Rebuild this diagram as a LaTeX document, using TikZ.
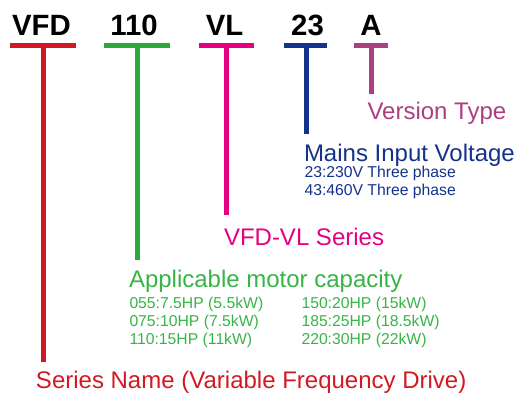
\documentclass[tikz,border=0pt]{standalone}
\usepackage{fontspec}
\setmainfont{Liberation Sans}
\definecolor{cRed}{RGB}{210,25,35}
\definecolor{cGreen}{RGB}{45,168,60}
\definecolor{cGreenTxt}{RGB}{55,180,70}
\definecolor{cPink}{RGB}{228,0,128}
\definecolor{cBlue}{RGB}{20,50,140}
\definecolor{cPurple}{RGB}{172,62,132}
\tikzset{every picture/.style={line width=0.75pt}}
\tikzset{
  head/.style={anchor=base,inner sep=0pt,font=\fontsize{22}{26}\selectfont\bfseries},
  bigtxt/.style={anchor=base west,inner sep=0pt,font=\fontsize{18}{21}\selectfont},
  smalltxt/.style={anchor=base west,inner sep=0pt,font=\fontsize{11.8}{14}\selectfont},
  bar/.style={line width=3.4pt},
  stem/.style={line width=3.6pt}
}
\begin{document}
\begin{tikzpicture}[x=0.75pt,y=0.75pt,yscale=-1,xscale=1]
\path (0,0) rectangle (517,394); %set diagram size

% Header Codes
\node [head] (vfd) at (41.5,35) {VFD};
\node [head] (cap) at (134,35) {110};
\node [head] (vl) at (224.5,35) {VL};
\node [head] (volt) at (307.5,35) {23};
\node [head] (ver) at (371,35) {A};

% Bar ends and stem ends
\coordinate (vfdL) at (10,45.3);  \coordinate (vfdR) at (76,45.3);
\coordinate (capL) at (104,45.3); \coordinate (capR) at (170,45.3);
\coordinate (vlL) at (199,45.3);  \coordinate (vlR) at (254,45.3);
\coordinate (voltL) at (284,45.3); \coordinate (voltR) at (327,45.3);
\coordinate (verL) at (354,45.3); \coordinate (verR) at (388,45.3);
\coordinate (vfdT) at (43.3,45.3);  \coordinate (vfdB) at (43.3,362);
\coordinate (capT) at (137.5,45.3); \coordinate (capB) at (137.5,260);
\coordinate (vlT) at (226.5,45.3);  \coordinate (vlB) at (226.5,215);
\coordinate (voltT) at (306.5,45.3); \coordinate (voltB) at (306.5,134);
\coordinate (verT) at (371.5,45.3); \coordinate (verB) at (371.5,94);

% Bars
\draw [cRed,bar] (vfdL) -- (vfdR) ;
\draw [cGreen,bar] (capL) -- (capR) ;
\draw [cPink,bar] (vlL) -- (vlR) ;
\draw [cBlue,bar] (voltL) -- (voltR) ;
\draw [cPurple,bar] (verL) -- (verR) ;
% Stems
\draw [cRed,stem] (vfdT) -- (vfdB) ;
\draw [cGreen,stem] (capT) -- (capB) ;
\draw [cPink,stem] (vlT) -- (vlB) ;
\draw [cBlue,stem] (voltT) -- (voltB) ;
\draw [cPurple,stem] (verT) -- (verB) ;

% Text Node
\node [bigtxt,text=cPurple] (verLbl) at (367,119) {Version Type};
% Text Node
\node [bigtxt,text=cBlue] (voltLbl) at (303.5,161.5) {Mains Input Voltage};
\node [smalltxt,text=cBlue] (volt23) at (304,177.5) {23:230V Three phase};
\node [smalltxt,text=cBlue] (volt43) at (304,195) {43:460V Three phase};
% Text Node
\node [bigtxt,text=cPink] (vlLbl) at (223.5,245) {VFD-VL Series};
% Text Node
\node [bigtxt,text=cGreenTxt] (capLbl) at (128.5,287) {Applicable motor capacity};
\node [smalltxt,text=cGreenTxt] (cap055) at (129,308) {055:7.5HP (5.5kW)};
\node [smalltxt,text=cGreenTxt] (cap075) at (129,326) {075:10HP (7.5kW)};
\node [smalltxt,text=cGreenTxt] (cap110) at (129,344) {110:15HP (11kW)};
\node [smalltxt,text=cGreenTxt] (cap150) at (301,308) {150:20HP (15kW)};
\node [smalltxt,text=cGreenTxt] (cap185) at (301,326) {185:25HP (18.5kW)};
\node [smalltxt,text=cGreenTxt] (cap220) at (301,344) {220:30HP (22kW)};
% Text Node
\node [bigtxt,text=cRed] (vfdLbl) at (35.5,388) {Series Name (Variable Frequency Drive)};

\end{tikzpicture}
\end{document}
